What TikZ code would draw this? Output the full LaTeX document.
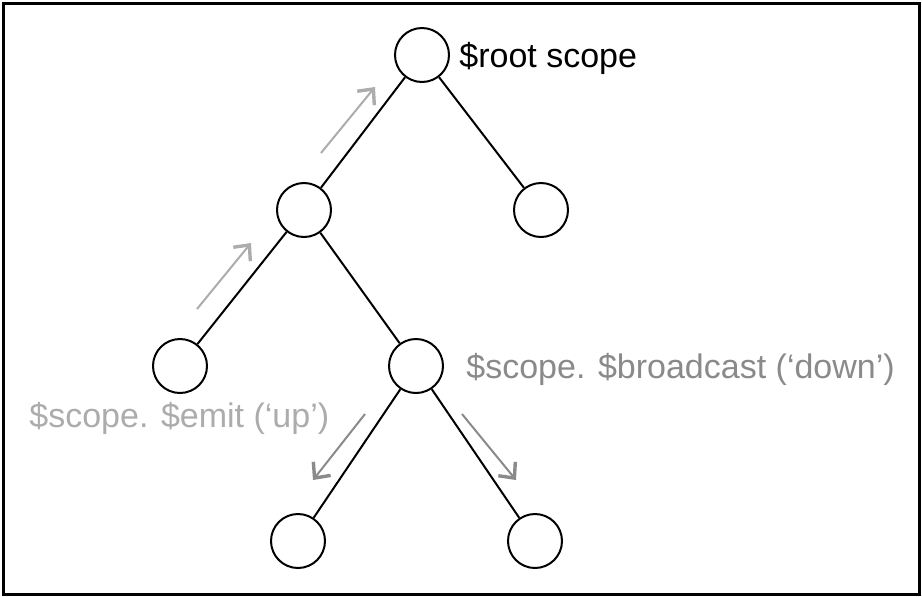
\documentclass[tikz,border=0pt]{standalone}
\usepackage{fontspec}
\setmainfont{Liberation Sans}
\usetikzlibrary{arrows.meta}
\definecolor{upgray}{RGB}{172,172,172}
\definecolor{downgray}{RGB}{138,138,138}

\begin{document}
\begin{tikzpicture}[x=0.5pt,y=-0.5pt,
                scope/.style={circle,draw=black,fill=white,line width=1pt,minimum size=27pt,inner sep=0pt},
                tag/.style={anchor=west,inner sep=0pt,font=\fontsize{17}{20}\selectfont},
                flow/.style={line width=1pt,-{Straight Barb[length=6pt,width=11pt,line width=1.7pt]}}
            ]
                \useasboundingbox (0,0) rectangle (922,596);
                \draw[line width=1.5pt] (3,3) rectangle (919.5,594.5);
                \node[scope] (root) at (422,55) {};
                \foreach \name/\x/\y in {a/304/210, b/541/210, aa/180/366, ab/416/366, aba/298/541, abb/535/541}
                    {
                    \node[scope] (\name) at (\x,\y) {};
                }
                \draw[line width=1pt] (root) -- (a);
                \draw[line width=1pt] (root) -- (b);
                \draw[line width=1pt] (a) -- (aa);
                \draw[line width=1pt] (a) -- (ab);
                \draw[line width=1pt] (ab) -- (aba);
                \draw[line width=1pt] (ab) -- (abb);
                \coordinate (up1s) at (197,309);
                \coordinate (up1e) at (251,243);
                \coordinate (up2s) at (321,153);
                \coordinate (up2e) at (375,87);
                \coordinate (dn1s) at (365,414);
                \coordinate (dn1e) at (313,480);
                \coordinate (dn2s) at (462,414);
                \coordinate (dn2e) at (516,480);
                \draw[flow,upgray] (up1s) -- (up1e);
                \draw[flow,upgray] (up2s) -- (up2e);
                \draw[flow,downgray] (dn1s) -- (dn1e);
                \draw[flow,downgray] (dn2s) -- (dn2e);
                \node[tag] (rootlabel) at (459,58) {\$root scope};
                \node[tag,text=downgray] (bcast) at (466,369) {\$scope. \$broadcast (‘down’)};
                \node[tag,text=upgray] (emit) at (29,418) {\$scope. \$emit (‘up’)};

            \end{tikzpicture}
\end{document}
